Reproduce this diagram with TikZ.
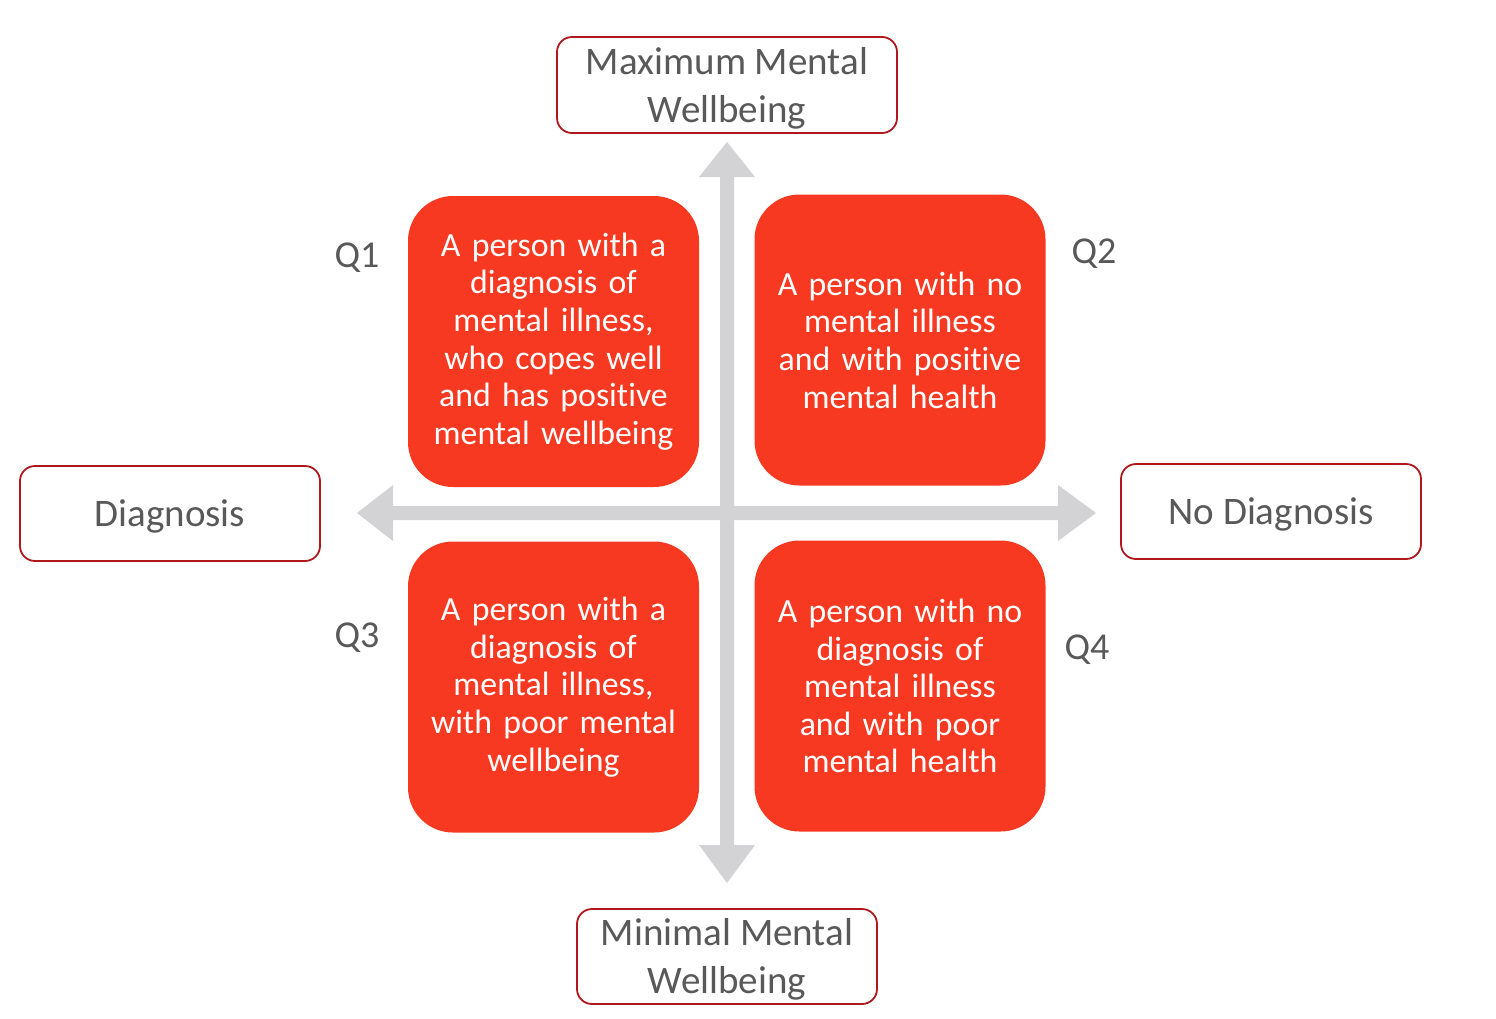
\documentclass[tikz,border=0pt]{standalone}
\usepackage{fontspec}
\setmainfont{Carlito}[Ligatures=NoCommon]
\definecolor{boxred}{RGB}{247,57,34}
\definecolor{edgered}{RGB}{176,24,30}
\definecolor{axisgrey}{RGB}{211,211,213}
\definecolor{txtgrey}{RGB}{89,89,89}
\begin{document}
\begin{tikzpicture}[x=1pt,y=-1pt,
  quad/.style={fill=boxred, rounded corners=45pt, minimum width=291pt, minimum height=291pt,
    inner sep=0pt, text=white, align=center, text width=285pt,
    font=\fontsize{33.8}{37.6}\selectfont},
  pole/.style={draw=edgered, line width=1.8pt, fill=white, rounded corners=15pt, inner sep=0pt},
  ptext/.style={text=txtgrey, align=center, inner sep=0pt, yshift=-3pt,
    font=\fontsize{39}{48}\selectfont},
  qlab/.style={text=txtgrey, font=\fontsize{38}{44}\selectfont, inner sep=0pt}]
\useasboundingbox (0,0) rectangle (1496,1018);
% axes
\coordinate (lt) at (357,513);
\coordinate (rt) at (1096,513);
\coordinate (tt) at (727,142);
\coordinate (bt) at (727,883);
\fill[axisgrey] (lt) -- (393,485) -- (393,506) -- (1058,506) -- (1058,485) -- (rt)
  -- (1058,541) -- (1058,520) -- (393,520) -- (393,541) -- cycle;
\fill[axisgrey] (tt) -- (755,177) -- (734,177) -- (734,845) -- (755,845) -- (bt)
  -- (699,845) -- (720,845) -- (720,177) -- (699,177) -- cycle;
% quadrants
\node[quad] (q1) at (553.5,341.5) {A person with a\\diagnosis of\\mental illness,\\who copes well\\and has positive\\mental wellbeing};
\node[quad] (q2) at (900,340) {A person with no\\mental illness\\and with positive\\mental health};
\node[quad] (q3) at (553.5,687) {A person with a\\diagnosis of\\mental illness,\\with poor mental\\wellbeing};
\node[quad] (q4) at (900,686) {A person with no\\diagnosis of\\mental illness\\and with poor\\mental health};
% poles
\node[pole, minimum width=340pt, minimum height=96pt,
  label={[ptext]center:{Maximum Mental\\Wellbeing}}] (top) at (727,85) {};
\node[pole, minimum width=300pt, minimum height=95pt,
  label={[ptext]center:{Minimal Mental\\Wellbeing}}] (bot) at (727,956.5) {};
\node[pole, minimum width=300pt, minimum height=95pt,
  label={[ptext]center:Diagnosis}] (left) at (170,513.5) {};
\node[pole, minimum width=300pt, minimum height=95pt,
  label={[ptext]center:No Diagnosis}] (right) at (1271,511.5) {};
% labels
\node[qlab] (l1) at (357,258) {Q1};
\node[qlab] (l2) at (1094,254) {Q2};
\node[qlab] (l3) at (357,638) {Q3};
\node[qlab] (l4) at (1087,650) {Q4};
\end{tikzpicture}
\end{document}
